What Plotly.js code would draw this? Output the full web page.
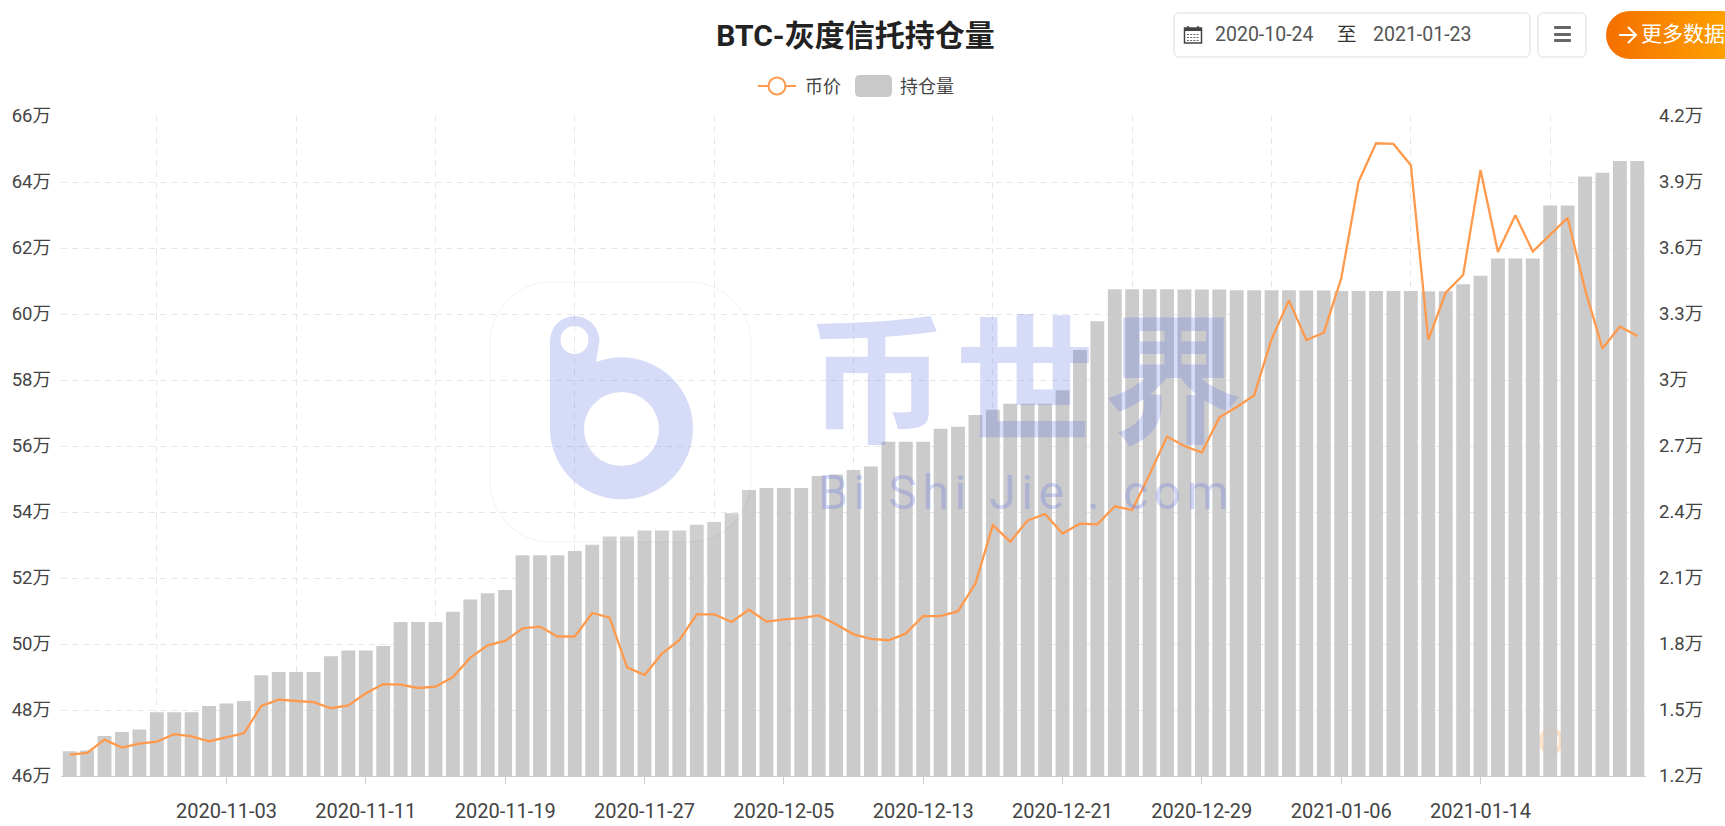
<!DOCTYPE html>
<html><head><meta charset="utf-8">
<script src="https://cdn.plot.ly/plotly-3.0.1.min.js"></script>
<style>
html,body{margin:0;padding:0;background:#fff;overflow:hidden}
body{width:1725px;height:826px;position:relative;font-family:Roboto,"Noto Sans CJK SC",sans-serif}
#chart{position:absolute;left:0;top:0;width:1725px;height:826px}
.box{position:absolute;box-sizing:border-box;background:#fff;border:2px solid #eeeeee;border-radius:6px}
#range{left:1173px;top:12px;width:358px;height:46px;color:#555;font-size:19.5px;line-height:42px}
#range span{position:absolute;top:0;white-space:nowrap}
#menu{left:1537px;top:12px;width:50px;height:46px}
#menu i{position:absolute;left:15px;width:17px;height:3px;background:#666;border-radius:1px}
#more{position:absolute;left:1606px;top:11px;width:140px;height:48px;border-radius:24px;background:linear-gradient(90deg,#f56f00,#ffa800);color:#fff;font-size:21px;line-height:46px;white-space:nowrap;overflow:hidden}
#more span{position:absolute;left:35px;top:0}
#more svg{position:absolute;left:11px;top:13px}
#wm{position:absolute;left:0;top:0;pointer-events:none}
</style></head><body>
<div id="chart"></div>
<svg id="wm" width="1725" height="826" viewBox="0 0 1725 826">
  <rect x="490" y="282" width="261" height="260" rx="62" fill="rgba(255,255,255,0.08)" stroke="rgba(0,0,0,0.035)" stroke-width="1.5"/>
  <path fill="rgba(97,116,228,0.26)" fill-rule="evenodd" d="M550 341A24.7 25 0 0 1 599.4 341L596 362A71.5 71 0 1 1 550 428Z M560.5 340A14 14 0 1 0 588.5 340A14 14 0 1 0 560.5 340Z M584 429A37.5 37 0 1 0 659 429A37.5 37 0 1 0 584 429Z"/>
  <text x="807" y="432" fill="rgba(97,116,228,0.26)" font-family="'Liberation Sans','Noto Sans CJK SC'" font-weight="700" font-size="140" letter-spacing="8">币世界</text>
  <text x="818" y="509" fill="rgba(97,116,228,0.30)" font-family="Roboto" font-size="48" letter-spacing="5.6" xml:space="preserve">Bi Shi Jie . com</text>
</svg>
<div id="range" class="box">
  <svg style="position:absolute;left:8px;top:11px" width="20" height="20" viewBox="0 0 20 20"><rect x="1.5" y="3" width="17" height="15" fill="none" stroke="#444" stroke-width="1.5"/><rect x="1.5" y="3" width="17" height="3" fill="#444"/><path d="M5 1v3M15 1v3" stroke="#444" stroke-width="1.5"/><path d="M4 9.5h12M4 12.5h12M4 15.5h12" stroke="#666" stroke-width="1.2" stroke-dasharray="2 1.2"/></svg>
  <span style="left:40px">2020-10-24</span><span style="left:162px;color:#333">至</span><span style="left:198px">2021-01-23</span>
</div>
<div id="menu" class="box"><i style="top:12px"></i><i style="top:18.5px"></i><i style="top:25px"></i></div>
<div id="more"><svg width="22" height="22" viewBox="0 0 22 22"><path d="M2 11H19M11 3L19 11L11 19" fill="none" stroke="#fff" stroke-width="2"/></svg><span>更多数据</span></div>
<script>
const dates = [
"2020-10-25","2020-10-26","2020-10-27","2020-10-28","2020-10-29","2020-10-30","2020-10-31",
"2020-11-01","2020-11-02","2020-11-03","2020-11-04","2020-11-05","2020-11-06","2020-11-07","2020-11-08","2020-11-09","2020-11-10","2020-11-11","2020-11-12","2020-11-13","2020-11-14","2020-11-15","2020-11-16","2020-11-17","2020-11-18","2020-11-19","2020-11-20","2020-11-21","2020-11-22","2020-11-23","2020-11-24","2020-11-25","2020-11-26","2020-11-27","2020-11-28","2020-11-29","2020-11-30",
"2020-12-01","2020-12-02","2020-12-03","2020-12-04","2020-12-05","2020-12-06","2020-12-07","2020-12-08","2020-12-09","2020-12-10","2020-12-11","2020-12-12","2020-12-13","2020-12-14","2020-12-15","2020-12-16","2020-12-17","2020-12-18","2020-12-19","2020-12-20","2020-12-21","2020-12-22","2020-12-23","2020-12-24","2020-12-25","2020-12-26","2020-12-27","2020-12-28","2020-12-29","2020-12-30","2020-12-31",
"2021-01-01","2021-01-02","2021-01-03","2021-01-04","2021-01-05","2021-01-06","2021-01-07","2021-01-08","2021-01-09","2021-01-10","2021-01-11","2021-01-12","2021-01-13","2021-01-14","2021-01-15","2021-01-16","2021-01-17","2021-01-18","2021-01-19","2021-01-20","2021-01-21","2021-01-22","2021-01-23"];
const holdings = [
467500,467700,472100,473300,474100,479300,479300,479300,481200,482000,482700,490500,491500,491500,491500,496300,498000,498000,499400,506700,506700,506700,509800,
513500,515400,516400,526900,526900,526900,528200,530100,532600,532600,534400,534400,534400,536100,537000,539600,546700,547300,547300,547300,550900,551400,552700,553800,
561300,561300,561300,565200,565800,569400,571000,572800,572800,572800,576900,589100,597800,607500,607500,607500,607500,607400,607400,607400,607200,607200,607200,607200,607100,607100,
607000,607000,607000,607000,607000,606900,606900,609000,611600,616800,616800,616800,632900,632900,641700,642800,646400,646400];
const price = [
12970,13050,13650,13290,13470,13560,13900,13800,13580,13750,13940,15180,15470,15410,15360,15080,15210,15760,16180,16150,16000,16060,16500,
17380,17940,18140,18710,18790,18340,18340,19410,19200,16940,16590,17560,18170,19350,19350,19000,19560,19020,19120,19180,19300,18900,18440,18230,18170,
18470,19270,19270,19490,20750,23400,22650,23620,23910,23020,23470,23440,24260,24090,25710,27430,27000,26700,28290,28770,29300,31850,33620,31820,32150,34610,39020,40760,40730,39760,31820,33970,34770,39550,35820,37490,35840,36610,37370,34120,31430,32430,32000];
const legendNames = ["币价","持仓量"];
const leftTickVals = [460000,480000,500000,520000,540000,560000,580000,600000,620000,640000,660000];
const leftTickText = ["46万","48万","50万","52万","54万","56万","58万","60万","62万","64万","66万"];
const rightTickVals = [12000,15000,18000,21000,24000,27000,30000,33000,36000,39000,42000];
const rightTickText = ["1.2万","1.5万","1.8万","2.1万","2.4万","2.7万","3万","3.3万","3.6万","3.9万","4.2万"];
const xTickLabels = ["2020-11-03","2020-11-11","2020-11-19","2020-11-27","2020-12-05","2020-12-13","2020-12-21","2020-12-29","2021-01-06","2021-01-14"];
const xGridDates = ["2020-10-30","2020-11-07","2020-11-15","2020-11-23","2020-12-01","2020-12-09","2020-12-17","2020-12-25","2021-01-02","2021-01-10","2021-01-18"];

const FONT = 'Roboto, "Noto Sans CJK SC", sans-serif';
const W = 1725, H = 826, L = 61, R = 79, T = 116, B = 50;
const pw = W - L - R, ph = H - T - B;
const fx = v => (v - L) / pw, fy = v => 1 - (v - T) / ph;
const gridStyle = {color:'#e7e7e7', dash:'6px,5px', width:1.3};
const rr = (x0,y0,x1,y1,r) => `M${fx(x0+r)},${fy(y0)}L${fx(x1-r)},${fy(y0)}Q${fx(x1)},${fy(y0)} ${fx(x1)},${fy(y0+r)}L${fx(x1)},${fy(y1-r)}Q${fx(x1)},${fy(y1)} ${fx(x1-r)},${fy(y1)}L${fx(x0+r)},${fy(y1)}Q${fx(x0)},${fy(y1)} ${fx(x0)},${fy(y1-r)}L${fx(x0)},${fy(y0+r)}Q${fx(x0)},${fy(y0)} ${fx(x0+r)},${fy(y0)}Z`;

const traces = [
  {type:'bar', name:legendNames[1], x:dates, y:holdings, marker:{color:'rgba(197,197,197,0.9)', line:{width:0}}, yaxis:'y', hoverinfo:'x+y'},
  {type:'scatter', mode:'lines', name:legendNames[0], x:dates, y:price, yaxis:'y2', line:{color:'#ff9a4d', width:2.3}, hoverinfo:'x+y'}
];
const layout = {
  width:W, height:H, showlegend:false, paper_bgcolor:'#fff', plot_bgcolor:'rgba(0,0,0,0)',
  margin:{l:L, r:R, t:T, b:B, pad:0}, bargap:0.205,
  font:{family:FONT, size:18, color:'#444'},
  title:{text:'BTC-灰度信托持仓量', x:855.5/W, xanchor:'center', y:1-35/H, yanchor:'middle', font:{family:FONT, size:30, color:'#222', weight:700}},
  xaxis:{type:'category', categoryorder:'array', categoryarray:dates, range:[-0.5,90.5], tickmode:'array', tickvals:xTickLabels, ticktext:xTickLabels,
    ticks:'outside', ticklen:7, tickcolor:'#cccccc', tickwidth:1, showline:true, linecolor:'#cccccc', linewidth:1, showgrid:false, zeroline:false,
    ticklabelstandoff:10, tickfont:{size:20, color:'#444', family:FONT},
    minor:{tickmode:'array', tickvals:xGridDates, showgrid:true, gridcolor:gridStyle.color, griddash:gridStyle.dash, gridwidth:gridStyle.width, ticks:''}},
  yaxis:{range:[460000,660000], tickmode:'array', tickvals:leftTickVals, ticktext:leftTickText, showline:false, ticks:'', zeroline:false,
    gridcolor:gridStyle.color, griddash:gridStyle.dash, gridwidth:gridStyle.width, ticklabelstandoff:9, tickfont:{size:18.5, color:'#444', family:FONT}},
  yaxis2:{overlaying:'y', side:'right', range:[12000,42000], tickmode:'array', tickvals:rightTickVals, ticktext:rightTickText, showline:false, ticks:'', zeroline:false,
    showgrid:false, ticklabelstandoff:12, tickfont:{size:18.5, color:'#444', family:FONT}},
  shapes:[
    {type:'line', xref:'paper', yref:'paper', x0:fx(758), x1:fx(796), y0:fy(86), y1:fy(86), line:{color:'#ff9a4d', width:2}},
    {type:'circle', xref:'paper', yref:'paper', x0:fx(768.5), x1:fx(785.5), y0:fy(77.5), y1:fy(94.5), fillcolor:'#fff', line:{color:'#ff9a4d', width:2}},
    {type:'path', xref:'paper', yref:'paper', path:rr(855,75,892,97,5), fillcolor:'#c9c9c9', line:{width:0}},
    {type:'circle', layer:'below', xref:'paper', yref:'paper', x0:fx(1541), x1:fx(1561), y0:fy(729), y1:fy(753), fillcolor:'rgba(0,0,0,0)', line:{color:'rgba(255,190,130,0.45)', width:4}}
  ],
  annotations:[
    {xref:'paper', yref:'paper', x:fx(803), y:fy(86), xanchor:'left', yanchor:'middle', showarrow:false, text:legendNames[0], font:{size:18, color:'#444', family:FONT}},
    {xref:'paper', yref:'paper', x:fx(898), y:fy(86), xanchor:'left', yanchor:'middle', showarrow:false, text:legendNames[1], font:{size:18, color:'#444', family:FONT}}
  ]
};
Plotly.newPlot('chart', traces, layout, {displayModeBar:false, responsive:false});
</script>
</body></html>
